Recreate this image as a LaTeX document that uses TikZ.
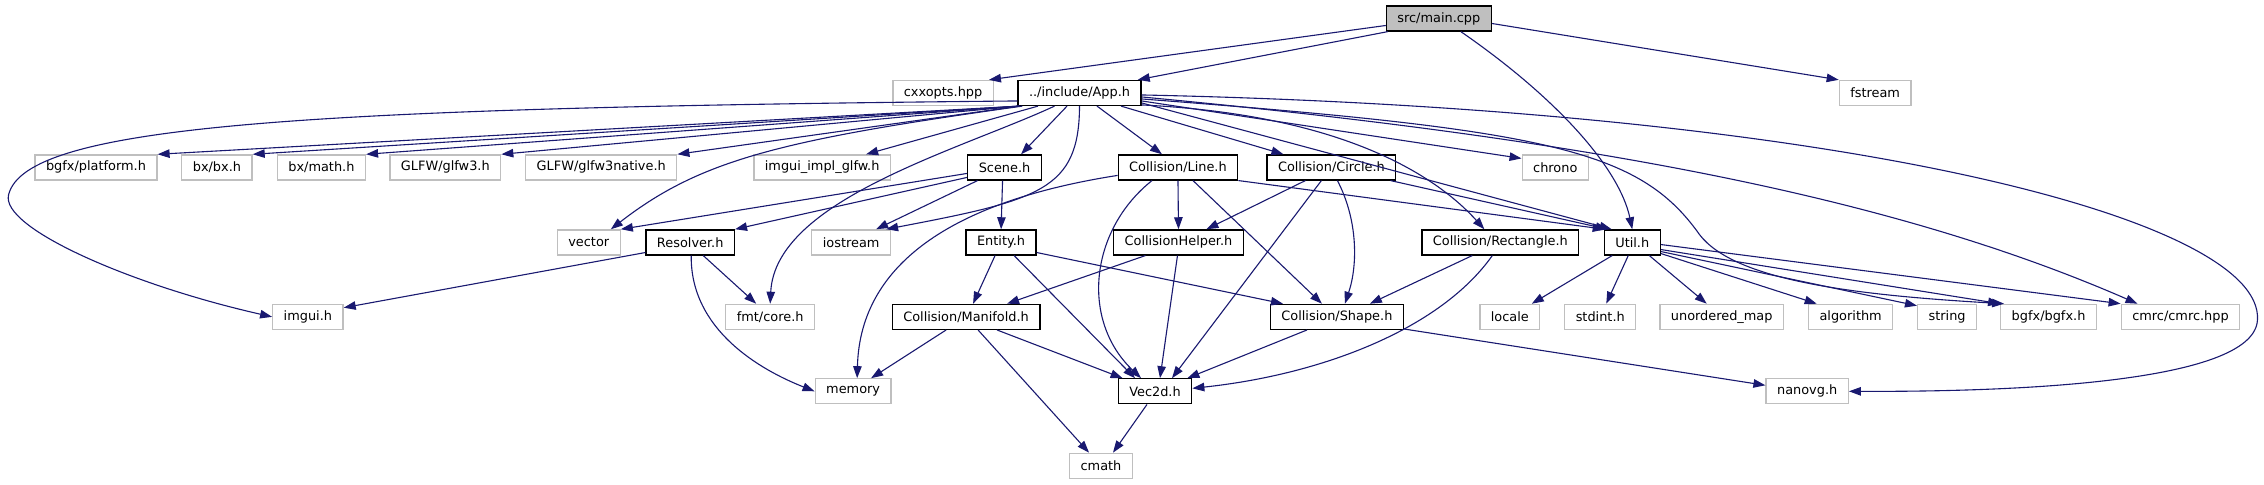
\documentclass[tikz,border=0pt]{standalone}
\usepackage{fontspec}
\setmainfont{DejaVu Sans}
\usetikzlibrary{arrows.meta}
\definecolor{edgeblue}{HTML}{191970}
\definecolor{greyline}{HTML}{BFBFBF}

\begin{document}
\begin{tikzpicture}[x=1pt,y=-1pt]

        \tikzset{
          box/.style={draw, line width=1.3pt, minimum height=25pt, inner xsep=11pt, inner ysep=0pt,
            font=\fontsize{12.9pt}{15pt}\selectfont, fill=white},
          sys/.style={box, draw=greyline},
          hdr/.style={box, draw=black},
          root/.style={box, draw=black, fill=greyline},
          edge/.style={draw=edgeblue, line width=1.1pt, -{Triangle[length=12pt,width=8.5pt]}}
        }

        \fill[white] (0,0) rectangle (2264,485);

        % Nodes
        \node[root] (main) at (1439,18.5) {src/main.cpp};

        \node[sys] (cxxopts) at (943,93) {cxxopts.hpp};
        \node[hdr] (app) at (1079.5,93) {../include/App.h};
        \node[sys] (fstream) at (1875.5,93) {fstream};

        \node[sys] (platform) at (95.5,167.5) {bgfx/platform.h};
        \node[sys] (bxbx) at (216.5,167.5) {bx/bx.h};
        \node[sys] (bxmath) at (321,167.5) {bx/math.h};
        \node[sys] (glfw3) at (445,167.5) {GLFW/glfw3.h};
        \node[sys] (glfwnative) at (601,167.5) {GLFW/glfw3native.h};
        \node[sys] (imguiglfw) at (822,167.5) {imgui\_impl\_glfw.h};
        \node[hdr] (scene) at (1004.5,167.5) {Scene.h};
        \node[hdr] (colline) at (1178,167.5) {Collision/Line.h};
        \node[hdr] (colcircle) at (1331.5,167.5) {Collision/Circle.h};
        \node[sys] (chrono) at (1555.5,167.5) {chrono};

        \node[sys] (vector) at (588.5,242.5) {vector};
        \node[hdr] (resolver) at (690,242.5) {Resolver.h};
        \node[sys] (iostream) at (851,242.5) {iostream};
        \node[hdr] (entity) at (1001,242.5) {Entity.h};
        \node[hdr] (colhelper) at (1178.5,242.5) {CollisionHelper.h};
        \node[hdr] (colrect) at (1500.5,242.5) {Collision/Rectangle.h};
        \node[hdr] (util) at (1632.5,242.5) {Util.h};

        \node[sys] (imgui) at (307.5,317) {imgui.h};
        \node[sys] (fmt) at (770,317) {fmt/core.h};
        \node[hdr] (manifold) at (966,317) {Collision/Manifold.h};
        \node[hdr] (colshape) at (1337,317) {Collision/Shape.h};
        \node[sys] (locale) at (1510,317) {locale};
        \node[sys] (stdint) at (1600.5,317) {stdint.h};
        \node[sys] (umap) at (1722,317) {unordered\_map};
        \node[sys] (algorithm) at (1851,317) {algorithm};
        \node[sys] (string) at (1947.5,317) {string};
        \node[sys] (bgfx) at (2049,317) {bgfx/bgfx.h};
        \node[sys] (cmrc) at (2181,317) {cmrc/cmrc.hpp};

        \node[sys] (memory) at (853,391.5) {memory};
        \node[hdr] (vec) at (1155,391.5) {Vec2d.h};
        \node[sys] (nanovg) at (1807.5,391.5) {nanovg.h};

        \node[sys] (cmath) at (1101,466) {cmath};

        % main.cpp
        \draw[edge] ([yshift=-7]main.west) -- ([xshift=-5]cxxopts.north east);
        \draw[edge] ([xshift=2]main.south west) -- ([xshift=-4]app.north east);
        \draw[edge] ([xshift=22]main.south) .. controls (1560,100) and (1620,170) .. (util.north);
        \draw[edge] ([yshift=-5]main.east) -- (fstream.north west);

        % App.h
        \foreach \n in {platform, bxbx, bxmath, glfw3, glfwnative} {
          \draw[edge] ([xshift=2]app.south west) -- (\n.north east);
        }
        \draw[edge] ([xshift=-41.5]app.south) -- ([xshift=44]imguiglfw.north);
        \draw[edge] ([yshift=-8]app.west) .. controls (300,108) and (25,125) .. (8,195)
          .. controls (0,228) and (130,285) .. (imgui.west);
        \draw[edge] ([xshift=5]app.south west) .. controls (780,140) and (700,160) .. ([xshift=-10]vector.north east);
        \draw[edge] ([xshift=-12.5]app.south) -- ([xshift=16.5]scene.north);
        \draw[edge] (app.south) .. controls (1079,190) and (1040,200) .. ([xshift=35]iostream.north);
        \draw[edge] ([xshift=-25]app.south) .. controls (960,150) and (775,200) .. (fmt.north);
        \draw[edge] ([xshift=17.5]app.south) -- ([xshift=-16]colline.north);
        \draw[edge] ([xshift=41.5]app.south) -- ([xshift=-48]colcircle.north);
        \draw[edge] ([yshift=-12]app.east) .. controls (1350,115) and (1440,180) .. ([xshift=-16]colrect.north);
        \draw[edge] ([yshift=-10]app.east) -- ([xshift=8]util.north west);
        \draw[edge] ([yshift=-8]app.east) -- ([yshift=9]chrono.west);
        \draw[edge] ([yshift=-6]app.east) .. controls (1550,130) and (1640,150) .. (1700,235)
          .. controls (1735,280) and (1850,295) .. ([xshift=4]bgfx.north west);
        \draw[edge] ([yshift=-4]app.east) .. controls (1600,140) and (1900,200) .. ([xshift=-43]cmrc.north);
        \draw[edge] ([yshift=-2]app.east) .. controls (1850,110) and (2264,220) .. (2258,320)
          .. controls (2255,385) and (2000,392) .. (nanovg.east);

        % Scene.h and Resolver.h
        \draw[edge] ([yshift=-6]scene.west) -- (vector.north east);
        \draw[edge] ([yshift=-10]scene.west) -- (resolver.north east);
        \draw[edge] ([xshift=-27]scene.south) -- ([xshift=25]iostream.north);
        \draw[edge] ([xshift=-2]scene.south) -- (entity.north);
        \draw[edge] ([yshift=3]resolver.south west) -- ([yshift=-4]imgui.north east);
        \draw[edge] ([xshift=13]resolver.south) -- ([xshift=-14]fmt.north);
        \draw[edge] ([xshift=1]resolver.south) .. controls (690,330) and (760,370) .. (memory.west);

        % Entity.h
        \draw[edge] ([xshift=-6]entity.south) -- ([xshift=7]manifold.north);
        \draw[edge] ([xshift=13]entity.south) -- ([xshift=-20]vec.north);
        \draw[edge] ([yshift=3]entity.south east) -- ([xshift=-54]colshape.north);

        % Collision/Line.h and Collision/Circle.h
        \draw[edge] ([yshift=-8]colline.west) .. controls (960,200) and (860,260) .. ([xshift=4]memory.north);
        \draw[edge] ([xshift=-26]colline.south) .. controls (1090,230) and (1080,320) .. ([xshift=-14]vec.north);
        \draw[edge] (colline.south) -- (colhelper.north);
        \draw[edge] ([xshift=15]colline.south) -- ([xshift=-15]colshape.north);
        \draw[edge] (colline.south east) -- ([xshift=1]util.north west);
        \draw[edge] ([xshift=-26]colcircle.south) -- ([xshift=28]colhelper.north);
        \draw[edge] ([xshift=6]colcircle.south) .. controls (1358,220) and (1358,265) .. ([xshift=8]colshape.north);
        \draw[edge] ([xshift=-10]colcircle.south) -- ([xshift=17]vec.north);
        \draw[edge] ([xshift=-6]colcircle.south east) -- ([xshift=4]util.north west);

        % CollisionHelper.h and Collision/Rectangle.h
        \draw[edge] ([xshift=-33]colhelper.south) -- ([xshift=41]manifold.north);
        \draw[edge] ([xshift=-1]colhelper.south) -- ([xshift=5]vec.north);
        \draw[edge] ([xshift=-28]colrect.south) -- ([xshift=33]colshape.north);
        \draw[edge] ([xshift=-8]colrect.south) .. controls (1440,330) and (1320,375) .. ([yshift=3]vec.east);

        % Collision/Manifold.h, Collision/Shape.h, Vec2d.h
        \draw[edge] ([xshift=-20]manifold.south) -- ([xshift=18]memory.north);
        \draw[edge] ([xshift=31]manifold.south) -- ([xshift=5]vec.north west);
        \draw[edge] ([xshift=12]manifold.south) -- ([xshift=-12]cmath.north);
        \draw[edge] ([xshift=-30]colshape.south) -- ([xshift=-5]vec.north east);
        \draw[edge] ([yshift=1]colshape.south east) -- ([yshift=6]nanovg.west);
        \draw[edge] ([xshift=-8]vec.south) -- ([xshift=12]cmath.north);

        % Util.h
        \draw[edge] ([xshift=-20]util.south) -- ([xshift=22]locale.north);
        \draw[edge] ([xshift=-4]util.south) -- ([xshift=6]stdint.north);
        \draw[edge] ([xshift=17]util.south) -- ([xshift=-15]umap.north);
        \draw[edge] ([yshift=2]util.south east) -- ([xshift=-34]algorithm.north);
        \draw[edge] ([yshift=4]util.south east) -- ([yshift=-2]string.north west);
        \draw[edge] ([yshift=6]util.south east) -- (bgfx.north west);
        \draw[edge] ([yshift=11]util.south east) -- (cmrc.north west);

      \end{tikzpicture}
\end{document}
